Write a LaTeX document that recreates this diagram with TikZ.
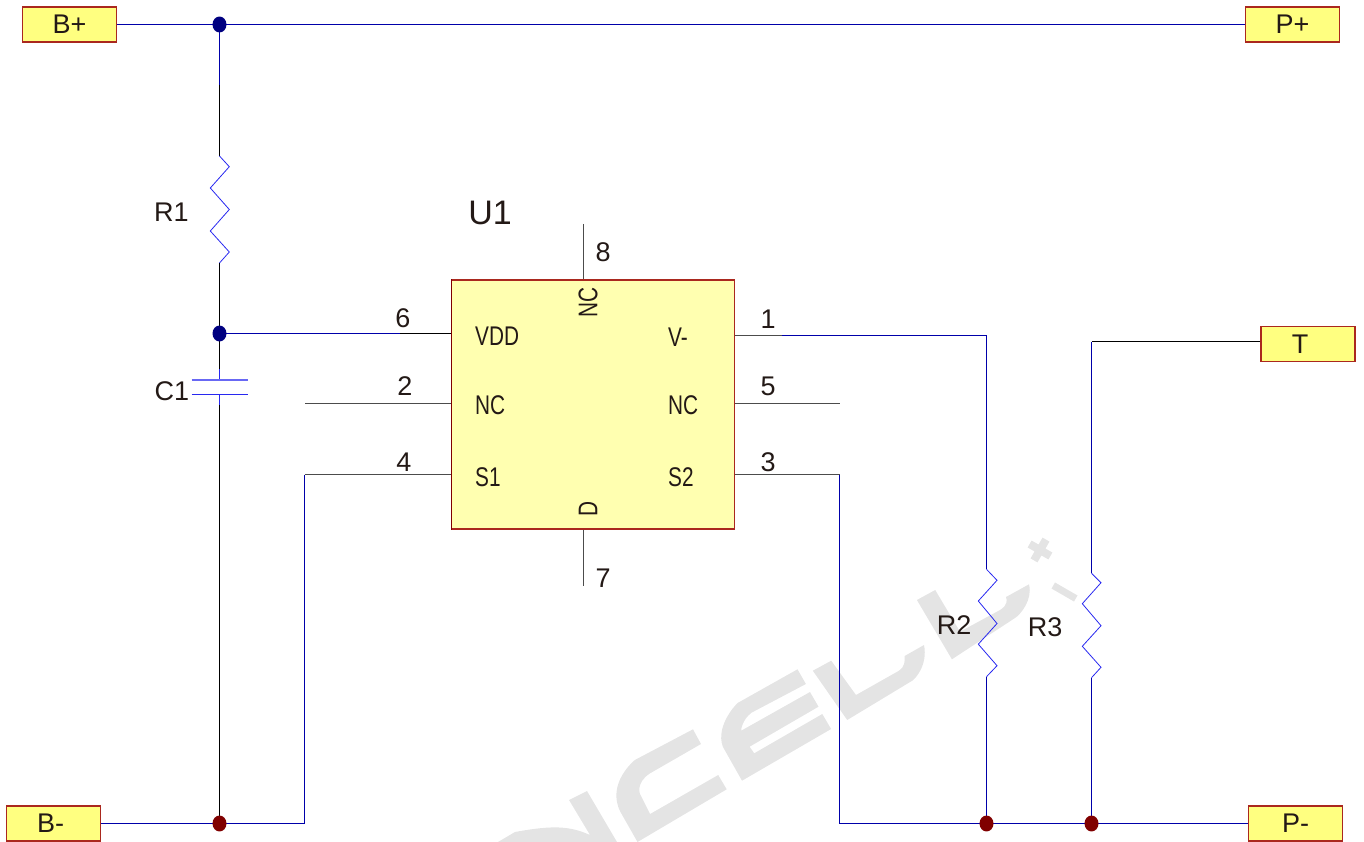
\documentclass[tikz,border=0pt]{standalone}
\usepackage{fontspec}
\setmainfont{Liberation Sans}
\definecolor{wirenavy}{RGB}{0,0,170}
\definecolor{resblue}{RGB}{40,40,240}
\definecolor{padfill}{RGB}{255,255,128}
\definecolor{padedge}{RGB}{170,40,30}
\definecolor{chipfill}{RGB}{255,255,176}
\definecolor{dotnavy}{RGB}{0,0,128}
\definecolor{dotred}{RGB}{128,0,0}
\definecolor{ink}{RGB}{35,25,22}
\definecolor{wmgrey}{RGB}{228,228,228}
\tikzset{
  pad/.style={draw=padedge,fill=padfill,line width=1.1pt,minimum width=94pt,minimum height=35pt,inner sep=0pt,font=\fontsize{27}{27}\selectfont,text=ink},
  wire/.style={draw=wirenavy,line width=1pt},
  pin/.style={draw=black!70,line width=1pt},
  blk/.style={draw=black,line width=1pt},
  res/.style={draw=resblue,line width=0.8pt},
  jn/.style={circle,fill=#1,minimum size=14pt,inner sep=0pt,yscale=1.14,draw=none},
  lbl/.style={font=\fontsize{27}{27}\selectfont,text=ink,inner sep=0pt},
  ic/.style={font=\fontsize{27}{27}\selectfont,text=ink,inner sep=0pt,xscale=.77,anchor=west},
  icv/.style={font=\fontsize{27}{27}\selectfont,text=ink,inner sep=0pt,yscale=.77,rotate=90},
  wm/.style={fill=wmgrey,draw=none}
}
\begin{document}
\begin{tikzpicture}[x=1pt,y=-1pt]
\useasboundingbox (0,0) rectangle (1364,842);
% watermark
\fill[wm] (812.8,670.7)--(831.2,660.7)--(856,695)--(899,670.7) .. controls (905,667) and (905,660) .. (904.6,656)--(924,645) .. controls (928,665) and (915,680) .. (910.6,681.7)--(847.2,720) --cycle;
\fill[wm] (916.9,600)--(935.2,590)--(960,631.7)--(1000,610) .. controls (1008,605) and (1007,600) .. (1006,597)--(1029,584.3) .. controls (1033,600) and (1020,615) .. (1015,618)--(951.9,659.3)--cycle;
\fill[wm] (797.5,669.3)--(805.9,684)--(751.5,712.7) .. controls (742,720) and (741,730) .. (741.2,730.7)--(810,692)--(818.5,706.7)--(749.6,746.7)--(754.2,753.3)--(822.3,714)--(831.1,729)--(742,780.7)--(722.8,746.7) .. controls (715,725) and (738,702) .. (738.1,702.7)--cycle;
\fill[wm] (693,729.3)--(701,744)--(650.1,773.3) .. controls (635,783) and (640,795) .. (640.6,795)--(650.1,814)--(718.2,775)--(726.7,789.3)--(637.5,842)--(620.3,811.7) .. controls (606,783) and (635,760) .. (634.8,760)--cycle;
\fill[wm] (569,800)--(587,791)--(617,842)--(498,842)--(515,832) .. controls (553,825) and (570,826) .. (590,835)--cycle;
\fill[wm,rotate around={-30:(1040,550)}] (1028,546) rectangle (1052,554) (1036,538) rectangle (1044,562);
\fill[wm,rotate around={-30:(1064.5,592)}] (1051.5,588.5) rectangle (1077.5,595.5);
% pads
\node[pad] (bp) at (69.5,24.5) {B+};
\node[pad] (pp) at (1292.5,24.5) {P+};
\node[pad] (bm) at (53.5,823.5) {B-\rule{6pt}{0pt}};
\node[pad] (pm) at (1295.5,823.5) {P-};
\node[pad] (t) at (1308,344) {T\rule{16pt}{0pt}};
% chip
\node[draw=padedge,fill=chipfill,line width=1.1pt,minimum width=282.6pt,minimum height=249pt,inner sep=0pt] (u) at (593,404.5) {};
\draw[draw=dotred,line width=1.1pt] (u.north west) -- (u.south west);
% coordinates
\coordinate (ja) at (219.5,24.5);
\coordinate (jb) at (219.5,333.5);
\coordinate (jc) at (219.5,823.5);
\coordinate (jd) at (986.5,823.5);
\coordinate (je) at (1091.5,823.5);
\coordinate (p2) at (305,403.5);
\coordinate (p5) at (840,403.5);
\coordinate (p8) at (583.5,224);
\coordinate (p7) at (583.5,586);
% wires
\draw[wire] (bp.east) -- (ja) -- (pp.west);
\draw[wire] (ja) -- (219.5,85);
\draw[blk] (219.5,85) -- (219.5,156);
\draw[res] (219.5,156) -- (229.3,166.7) -- (210.3,188) -- (229.3,209.5) -- (210.3,231) -- (229.3,252) -- (219.5,263);
\draw[blk] (219.5,263) -- (jb);
\draw[wire] (jb) -- (400,333.5);
\draw[blk] (400,333.5) -- (u.west |- jb);
\draw[blk] (jb) -- (219.5,369);
\draw[res] (219.5,369) -- (219.5,380);
\draw[draw=resblue!70,line width=1.3pt] (191.5,380) -- (248,380);
\draw[res] (191.5,394) -- (248,394);
\draw[res] (219.5,394) -- (219.5,405);
\draw[blk] (219.5,405) -- (jc);
\draw[wire] (bm.east) -- (jc) -- (304.5,823.5) -- (304.5,474.5);
\draw[pin] (304.5,474.5) -- (u.west |- 0,474.5);
\draw[pin] (p2) -- (u.west |- p2);
\draw[pin] (u.east |- p5) -- (p5);
\draw[pin] (p8) -- (u.north -| p8);
\draw[pin] (u.south -| p7) -- (p7);
\draw[pin] (u.east |- 0,335.5) -- (782,335.5);
\draw[wire] (782,335.5) -- (986.5,335.5) -- (986.5,569.3);
\draw[res] (986.5,569.3) -- (997,580.3) -- (978.3,601) -- (997,623.5) -- (978.3,644.2) -- (997,665.7) -- (986.5,676.7);
\draw[wire] (986.5,676.7) -- (jd);
\draw[pin] (u.east |- 0,474.5) -- (839.5,474.5);
\draw[wire] (839.5,474.5) -- (839.5,823.5) -- (pm.west);
\draw[blk] (t.west |- 0,341.5) -- (1091.5,341.5);
\draw[wire] (1091.5,341.5) -- (1091.5,573.3);
\draw[res] (1091.5,573.3) -- (1101,582.7) -- (1082.3,603.7) -- (1101,625.7) -- (1082.3,646.3) -- (1101,667.3) -- (1091.5,677.7);
\draw[wire] (1091.5,677.7) -- (je);
% junctions
\node[jn=dotnavy] (nja) at (ja) {};
\node[jn=dotnavy] (njb) at (jb) {};
\node[jn=dotred] (njc) at (jc) {};
\node[jn=dotred] (njd) at (jd) {};
\node[jn=dotred] (nje) at (je) {};
% labels
\node[lbl] (r1) at (171.5,212) {R1};
\node[lbl] (c1) at (172,391) {C1};
\node[lbl] (r2) at (954,625) {R2};
\node[lbl] (r3) at (1045,627) {R3};
\node[lbl,font=\fontsize{34}{34}\selectfont] (u1) at (490,213) {U1};
\node[lbl] (n6) at (403,318) {6};
\node[lbl] (n2) at (405,386) {2};
\node[lbl] (n4) at (404,462) {4};
\node[lbl] (n1) at (768,319) {1};
\node[lbl] (n5) at (768,386) {5};
\node[lbl] (n3) at (768,462) {3};
\node[lbl] (n8) at (603,252) {8};
\node[lbl] (n7) at (603,578) {7};
\node[ic] (vdd) at (475,336) {VDD};
\node[ic] (nca) at (475,405) {NC};
\node[ic] (sa) at (475,477) {S1};
\node[ic] (vm) at (668,337) {V-};
\node[ic] (ncb) at (668,405) {NC};
\node[ic] (sb) at (668,477) {S2};
\node[icv] (nct) at (588,302.5) {NC};
\node[icv] (dd) at (588,508.5) {D};
\end{tikzpicture}
\end{document}
